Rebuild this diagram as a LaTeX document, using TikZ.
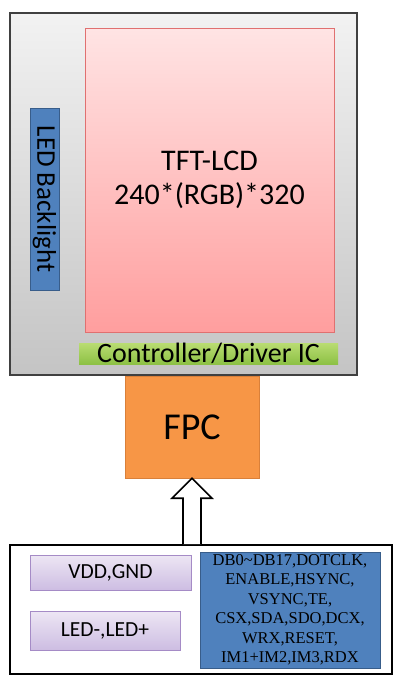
\documentclass[tikz,border=0pt]{standalone}
\usepackage{fontspec}
\setmainfont{Carlito}
\newfontfamily\serifsig{Liberation Serif}
\usetikzlibrary{calc}

\definecolor{panelTop}{HTML}{F2F2F2}
\definecolor{panelBot}{HTML}{C4C4C4}
\definecolor{lcdTop}{HTML}{FFE4E4}
\definecolor{lcdBot}{HTML}{FF9E9E}
\definecolor{lcdLine}{HTML}{E07070}
\definecolor{icTop}{HTML}{B9DC72}
\definecolor{icBot}{HTML}{8DC145}
\definecolor{fpcFill}{HTML}{F79646}
\definecolor{fpcLine}{HTML}{D9803A}
\definecolor{ledBlue}{HTML}{4F81BD}
\definecolor{ledLine}{HTML}{385D8A}
\definecolor{pwrTop}{HTML}{EDE6F4}
\definecolor{pwrBot}{HTML}{CDBDE2}
\definecolor{pwrLine}{HTML}{A58BC6}

\tikzset{
  box/.style={rectangle, inner sep=0pt, align=center},
  pwrbox/.style={box, draw=pwrLine, top color=pwrTop, bottom color=pwrBot, font=\fontsize{21.5}{24}\selectfont}
}

\begin{document}
\begin{tikzpicture}[x=1pt,y=-1pt]
        \useasboundingbox (0,0) rectangle (400,683);
        % module
        \node[box,draw=black!75,line width=1.3pt,top color=panelTop,bottom color=panelBot,
              minimum width=347pt,minimum height=362pt] (panel) at (183.5,194) {};
        \node[box,draw=lcdLine,top color=lcdTop,bottom color=lcdBot,
              minimum width=249pt,minimum height=304pt,
              font=\fontsize{30}{34}\selectfont] (lcd) at (209.5,180) {TFT-LCD\\240*(RGB)*320};
        \node[box,draw=ledLine,fill=ledBlue,minimum width=29pt,minimum height=182pt] (led) at (44.5,199) {};
        \node[rotate=-90,font=\fontsize{27}{30}\selectfont] (ledtext) at (led.center) {LED Backlight};
        \node[box,top color=icTop,bottom color=icBot,minimum width=259pt,minimum height=21pt,
              font=\fontsize{28}{30}\selectfont] (ic) at (208.5,353.5) {Controller/Driver IC};
        % connector
        \node[box,draw=fpcLine,fill=fpcFill,minimum width=134pt,minimum height=102pt,
              font=\fontsize{38}{42}\selectfont] (fpc) at (192,427) {FPC};
        % interface signals
        \node[box,draw=black,line width=1.6pt,minimum width=382pt,minimum height=129pt] (bus) at (201,609.5) {};
        \node[pwrbox,minimum width=161pt,minimum height=35pt] (vdd) at (110.5,572.5) {VDD,GND};
        \node[pwrbox,minimum width=150pt,minimum height=39pt] (ledpm) at (105,630.5) {LED-,LED+};
        \node[box,draw=ledLine,fill=ledBlue,minimum width=180pt,minimum height=116pt,
              font=\serifsig\fontsize{16.5}{19.5}\selectfont,text=black] (sig) at (290,610)
              {DB0\textasciitilde DB17,DOTCLK,\\ENABLE,HSYNC,\\VSYNC,TE,\\CSX,SDA,SDO,DCX,\\WRX,RESET,\\IM1+IM2,IM3,RDX};
        % hollow arrow
        \coordinate (tail) at (fpc.south |- bus.north);
        \draw[line width=1.6pt,fill=white,line join=miter]
            ($(tail)+(-9,0)$) -- ($(fpc.south)+(-9,20)$) -- ($(fpc.south)+(-20,20)$)
            -- (fpc.south) -- ($(fpc.south)+(20,20)$) -- ($(fpc.south)+(9,20)$)
            -- ($(tail)+(9,0)$);
\end{tikzpicture}
\end{document}
